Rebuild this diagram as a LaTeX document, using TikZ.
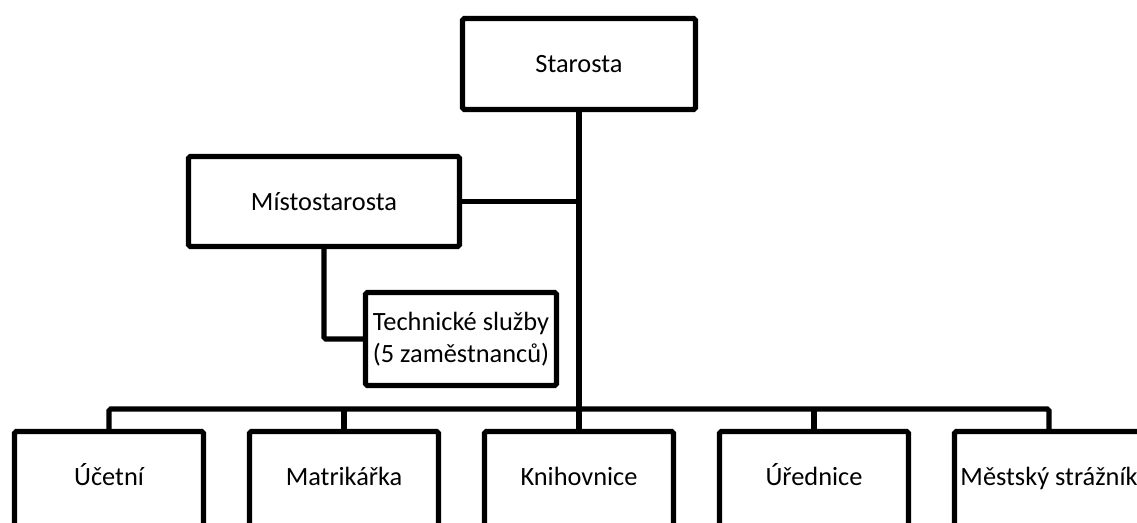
\documentclass[tikz,border=0pt]{standalone}
\usepackage{fontspec}
\setmainfont{Carlito}
\usepackage{tikz}

\begin{document}
\begin{tikzpicture}[
    box/.style={rectangle, draw, line width=3pt, rounded corners=1pt, inner sep=0pt,
        font=\fontsize{15}{18}\selectfont},
    staff/.style={box, minimum width=3.78cm, minimum height=2.1cm,
        text height=0.34cm, text depth=0.28cm},
    link/.style={line width=3pt, rounded corners=1pt}
]
    \useasboundingbox (0,0) rectangle (22.74,10.46);
    \fill[white] (0,0) rectangle (22.74,10.46);
    \clip (0,0) rectangle (22.74,10.46);

    \node at (11.58,9.18) [box, minimum width=4.66cm, minimum height=1.82cm] (starosta) {Starosta};
    \node at (6.48,6.43) [box, minimum width=5.42cm, minimum height=1.80cm] (mistostarosta) {Místostarosta};
    \node at (9.22,3.68) [box, minimum width=3.82cm, minimum height=1.86cm, align=center] (technicke) {Technické služby\\(5 zaměstnanců)};

    \node at (2.18,0.78) [staff] (ucetni) {Účetní};
    \node at (6.88,0.78) [staff] (matrikarka) {Matrikářka};
    \node at (11.58,0.78) [staff] (knihovnice) {Knihovnice};
    \node at (16.28,0.78) [staff] (urednice) {Úřednice};
    \node at (20.98,0.78) [staff] (straznik) {Městský strážník};

    \coordinate (bus) at (11.58,2.28);

    \draw[link] (starosta) -- (knihovnice);
    \draw[link] (mistostarosta.east) -- (mistostarosta.east -| starosta.south);
    \draw[link] (mistostarosta.south) |- (technicke.west);
    \draw[link] (ucetni.north) |- (bus) -| (straznik.north);
    \draw[link] (matrikarka.north) -- (matrikarka.north |- bus);
    \draw[link] (urednice.north) -- (urednice.north |- bus);
\end{tikzpicture}
\end{document}
